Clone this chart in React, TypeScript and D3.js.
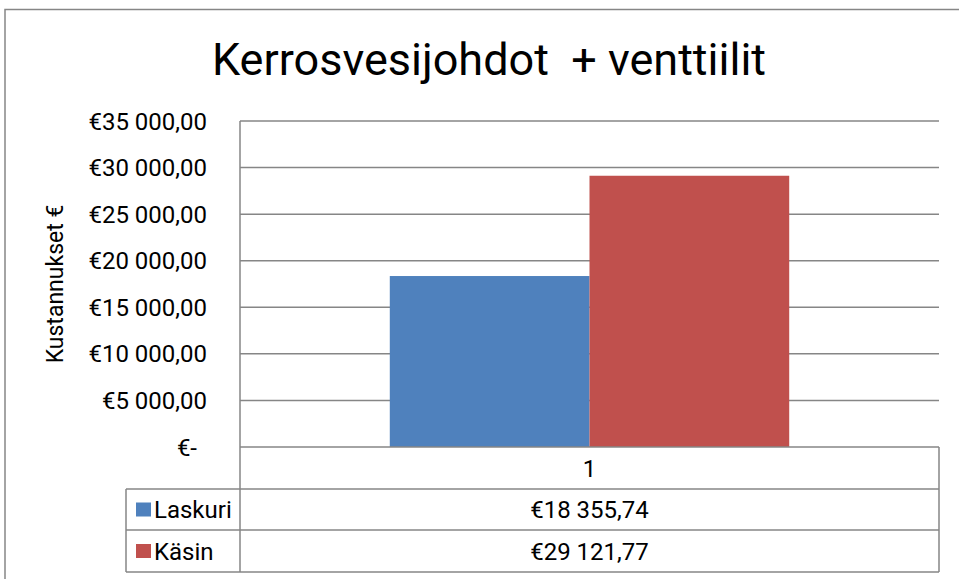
import { useEffect, useRef } from 'react'
import * as d3 from 'd3'

const CATEGORIES = ['1']
const SERIES = ['Laskuri', 'Käsin']
const VALUES = [18355.74, 29121.77]
const COLORS = ['#4F81BD', '#C0504D']
const Y_TICKS = [0, 5000, 10000, 15000, 20000, 25000, 30000, 35000]

const W = 959
const H = 579
const FONT = 'Roboto, "Liberation Sans", Arial, sans-serif'

// Excel accounting style: €35 000,00 / €-
const fmtEur = (v: number) => {
  if (v === 0) return '€-'
  const [i, d] = v.toFixed(2).split('.')
  return '€' + i.replace(/\B(?=(\d{3})+(?!\d))/g, ' ') + ',' + d
}

export default function App() {
  const svgRef = useRef<SVGSVGElement>(null)

  useEffect(() => {
    if (!svgRef.current) return
    const svg = d3.select(svgRef.current)
    svg.selectAll('*').remove()

    const left = 240, right = 939, top = 121, bottom = 447
    const tableRows = [447, 489, 530, 572]
    const legendLeft = 126
    const grid = '#868686'

    // chart border
    svg.append('rect').attr('x', 5).attr('y', 9.5).attr('width', W + 10).attr('height', H + 10)
      .attr('fill', 'white').attr('stroke', grid).attr('stroke-width', 1.5)

    svg.append('text').attr('x', 489).attr('y', 75).attr('text-anchor', 'middle')
      .attr('font-family', FONT).attr('font-size', 45).attr('fill', '#000')
      .style('white-space', 'pre').text('Kerrosvesijohdot  + venttiilit')

    const y = d3.scaleLinear().domain([0, 35000]).range([bottom, top])
    const x0 = d3.scaleBand().domain(CATEGORIES).range([left, right]).paddingInner(0).paddingOuter(0)
    const groupW = x0.bandwidth() / 1.75 // gap width 75%
    const x1 = d3.scaleBand().domain(SERIES).range([0, groupW])

    // gridlines
    svg.append('g').selectAll('line').data(Y_TICKS.filter(t => t > 0)).join('line')
      .attr('x1', left).attr('x2', right).attr('y1', d => y(d)).attr('y2', d => y(d))
      .attr('stroke', grid).attr('stroke-width', 1.5)

    // bars
    CATEGORIES.forEach(c => {
      const gx = (x0(c) ?? 0) + (x0.bandwidth() - groupW) / 2
      SERIES.forEach((s, i) => {
        svg.append('rect').attr('x', gx + (x1(s) ?? 0)).attr('y', y(VALUES[i]))
          .attr('width', x1.bandwidth()).attr('height', y(0) - y(VALUES[i])).attr('fill', COLORS[i])
      })
    })

    // y tick labels
    svg.append('g').selectAll('text').data(Y_TICKS).join('text')
      .attr('x', d => d === 0 ? 197 : 207).attr('y', d => y(d)).attr('dy', '0.36em')
      .attr('text-anchor', 'end').attr('font-family', FONT).attr('font-size', 24).attr('fill', '#000')
      .text(d => fmtEur(d))

    // y axis title
    svg.append('text').attr('transform', `translate(63,${(top + bottom) / 2}) rotate(-90)`).attr('text-anchor', 'middle')
      .attr('font-family', FONT).attr('font-size', 23).attr('fill', '#000').text('Kustannukset €')

    // data table
    const tg = svg.append('g').attr('stroke', grid).attr('stroke-width', 1.5)
    tg.append('line').attr('x1', left).attr('x2', right).attr('y1', tableRows[0]).attr('y2', tableRows[0])
    tableRows.slice(1).forEach(r => {
      tg.append('line').attr('x1', legendLeft).attr('x2', right).attr('y1', r).attr('y2', r)
    })
    tg.append('line').attr('x1', left).attr('x2', left).attr('y1', top).attr('y2', tableRows[3])
    tg.append('line').attr('x1', right).attr('x2', right).attr('y1', tableRows[0]).attr('y2', tableRows[3])
    tg.append('line').attr('x1', legendLeft).attr('x2', legendLeft).attr('y1', tableRows[1]).attr('y2', tableRows[3])

    const cx = (left + right) / 2
    svg.append('text').attr('x', cx).attr('y', (tableRows[0] + tableRows[1]) / 2).attr('dy', '0.36em')
      .attr('text-anchor', 'middle').attr('font-family', FONT).attr('font-size', 24).text(CATEGORIES[0])

    SERIES.forEach((s, i) => {
      const my = (tableRows[i + 1] + tableRows[i + 2]) / 2
      svg.append('rect').attr('x', 136).attr('y', my - 7).attr('width', 15).attr('height', 14).attr('fill', COLORS[i])
      svg.append('text').attr('x', 154).attr('y', my).attr('dy', '0.36em')
        .attr('font-family', FONT).attr('font-size', 24).text(s)
      svg.append('text').attr('x', cx).attr('y', my).attr('dy', '0.36em').attr('text-anchor', 'middle')
        .attr('font-family', FONT).attr('font-size', 24).text(fmtEur(VALUES[i]))
    })
  }, [])

  return (
    <div style={{ position: 'absolute', left: 0, top: 0, width: W, height: H, background: 'white' }}>
      <svg ref={svgRef} width={W} height={H} />
    </div>
  )
}
